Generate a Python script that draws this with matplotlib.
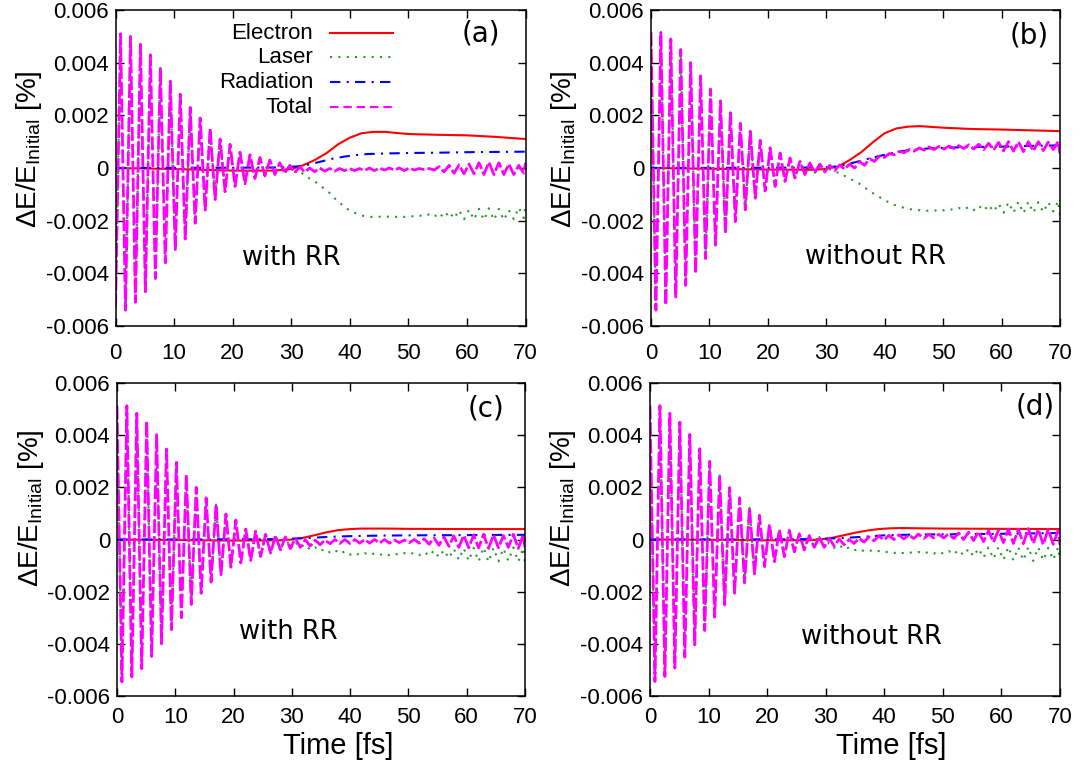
import matplotlib
matplotlib.use("Agg")
import matplotlib.pyplot as plt
from matplotlib.ticker import FixedLocator, FixedFormatter

plt.rcParams['font.family'] = ['Liberation Sans', 'DejaVu Sans']
plt.rcParams['mathtext.fontset'] = 'custom'
plt.rcParams['mathtext.rm'] = 'Liberation Sans'
plt.rcParams['mathtext.it'] = 'Liberation Sans:italic'

# ---- data --------------------------------------------------------------
# Oscillation extrema (peaks / troughs) sit on a common time grid [fs].
EXT_T = [0.0, 0.85, 1.7, 2.55, 3.4, 4.25, 5.1, 5.95, 6.8, 7.65,
         8.5, 9.35, 10.2, 11.05, 11.9, 12.75, 13.6, 14.45, 15.3, 16.15,
         17.0, 17.85, 18.7, 19.55, 20.4, 21.25, 22.1, 22.95, 23.8, 24.65,
         25.5, 26.35, 27.2, 28.05, 28.9, 29.75, 30.6, 31.45, 32.3, 33.15,
         34.0, 34.85, 35.7, 36.55, 37.4, 38.25, 39.1, 39.95, 40.8, 41.65,
         42.5, 43.35, 44.2, 45.05, 45.9, 46.75, 47.6, 48.45, 49.3, 50.15,
         51.0, 51.85, 52.7, 53.55, 54.4, 55.25, 56.1, 56.95, 57.8, 58.65,
         59.5, 60.35, 61.2, 62.05, 62.9, 63.75, 64.6, 65.45, 66.3, 67.15,
         68.0, 68.85, 69.7, 70.0]
# laser and total coincide before this grid index
LASER_SPLIT = 34

TOTAL_A = [-0.0053, 0.0051, -0.0054, 0.0050, -0.0051, 0.0047, -0.0047, 0.0043, -0.0042, 0.0038,
           -0.0036, 0.0033, -0.0031, 0.0028, -0.0027, 0.0023, -0.0021, 0.0019, -0.0016, 0.0015,
           -0.0012, 0.0011, -0.0009, 0.0009, -0.0007, 0.0006, -0.0006, 0.0005, -0.0004, 0.0004,
           -0.0003, 0.0003, -0.00025, 0.0002, -0.0002, 0.0001, -0.00018, 0.00005, -0.00016, 0.0,
           -0.00014, 0.0, -0.00012, -0.00002, -0.00012, -0.00002, -0.0001, -0.00002, -0.0001, -0.00002,
           -0.0001, 0.0, -0.0001, 0.0, -0.00008, 0.0, -0.00008, 0.0, -0.0001, 0.0,
           -0.00008, -0.00002, -0.00006, -0.00002, -0.00008, 0.00005, -0.00015, 0.0001, -0.0002, 0.00012,
           -0.00022, 0.00015, -0.00022, 0.0002, -0.00025, 0.00022, -0.00025, 0.0002, -0.00025, 0.00015,
           -0.00025, 0.0001, -0.0002, 0.0002]
LASER_LATE_A = [-0.0002, 0.0001, -0.00015, -0.0001, -0.0003, -0.0004, -0.0005, -0.00065, -0.0008, -0.00095,
                -0.00115, -0.0013, -0.0015, -0.0016, -0.0017, -0.00178, -0.00183, -0.00185, -0.00187, -0.00185,
                -0.00187, -0.00184, -0.00187, -0.00183, -0.00186, -0.00181, -0.00185, -0.0018, -0.00184, -0.00176,
                -0.00186, -0.0017, -0.0019, -0.00165, -0.00192, -0.0016, -0.00195, -0.00158, -0.00196, -0.00155,
                -0.00198, -0.00153, -0.00198, -0.00155, -0.00198, -0.0016, -0.00195, -0.0015, -0.0019, -0.0014]
ELEC_T_A = [0, 10, 20, 27, 30, 32, 34, 36, 38, 40, 42, 44, 46, 50, 55, 60, 65, 70]
ELEC_V_A = [0, -0.00004, -0.0001, -0.0001, -0.00004, 0.0001, 0.0003, 0.00056, 0.0009, 0.00115,
            0.00132, 0.00137, 0.00137, 0.00129, 0.00126, 0.00124, 0.00118, 0.0011]
RAD_T_A = [0, 20, 28, 31, 33, 35, 37, 39, 41, 43, 46, 50, 55, 60, 65, 70]
RAD_V_A = [0, 0.00001, 0.00002, 0.00006, 0.00013, 0.00024, 0.00035, 0.00043, 0.00049, 0.00053,
           0.00055, 0.00057, 0.00058, 0.0006, 0.00061, 0.00062]

TOTAL_B = [0.00515, -0.0054, 0.00515, -0.0052, 0.0049, -0.0049, 0.0045, -0.00446, 0.0040, -0.0040,
           0.0035, -0.00344, 0.0030, -0.00293, 0.00255, -0.00248, 0.0021, -0.00204, 0.0017, -0.00159,
           0.0014, -0.00115, 0.00105, -0.00087, 0.00077, -0.0007, 0.00057, -0.00051, 0.00038, -0.00038,
           0.00025, -0.00025, 0.00019, -0.00018, 0.00015, -0.00015, 0.0001, -0.0001, 0.00012, -0.00005,
           0.00015, 0.0, 0.00025, 0.0001, 0.00035, 0.00025, 0.00045, 0.0004, 0.00055, 0.0005,
           0.00063, 0.00058, 0.0007, 0.00064, 0.00076, 0.00068, 0.0008, 0.0007, 0.00082, 0.00072,
           0.00083, 0.00074, 0.00085, 0.00074, 0.00088, 0.00072, 0.0009, 0.0007, 0.00094, 0.00068,
           0.00097, 0.00065, 0.001, 0.00064, 0.001, 0.00062, 0.001, 0.00064, 0.001, 0.00066,
           0.00098, 0.0007, 0.001, 0.00055]
LASER_LATE_B = [0.00015, -0.00015, -0.00005, -0.00015, -0.00018, -0.0003, -0.00038, -0.00052, -0.0006, -0.00075,
                -0.00085, -0.001, -0.0011, -0.00124, -0.0013, -0.0014, -0.00145, -0.00152, -0.00155, -0.0016,
                -0.0016, -0.00165, -0.00161, -0.00163, -0.00157, -0.00161, -0.00155, -0.0016, -0.00152, -0.00158,
                -0.00148, -0.0016, -0.00143, -0.00162, -0.0014, -0.00166, -0.00135, -0.0017, -0.0013, -0.0017,
                -0.00128, -0.00172, -0.00128, -0.0017, -0.0013, -0.00168, -0.0013, -0.00165, -0.00125, -0.0018]
ELEC_T_B = [0, 10, 20, 28, 30, 32, 34, 36, 38, 40, 42, 44, 46, 50, 55, 60, 65, 70]
ELEC_V_B = [0, -0.00003, -0.00006, -0.00007, -0.00003, 0.00005, 0.0003, 0.0006, 0.00098, 0.00132,
            0.0015, 0.00157, 0.00159, 0.00153, 0.00148, 0.00146, 0.00143, 0.0014]
RAD_T_B = [0, 20, 28, 31, 33, 35, 37, 39, 41, 43, 45, 48, 52, 56, 60, 65, 70]
RAD_V_B = [0, 0.00001, 0.00002, 0.00004, 0.00011, 0.00022, 0.00034, 0.00045, 0.00055, 0.00064,
           0.0007, 0.00075, 0.00078, 0.0008, 0.00081, 0.00084, 0.00086]

TOTAL_C = [0.00513, -0.00546, 0.00513, -0.00527, 0.00484, -0.00495, 0.00453, -0.00448, 0.00402, -0.004,
           0.00347, -0.00346, 0.00296, -0.003, 0.00248, -0.00249, 0.002, -0.00206, 0.0016, -0.00163,
           0.00134, -0.00135, 0.00098, -0.00106, 0.00075, -0.0009, 0.0004, -0.0008, 0.00032, -0.00065,
           0.0002, -0.00052, 0.00015, -0.0004, 0.0001, -0.00035, 0.00005, -0.0003, 0.0, -0.00025,
           -0.00002, -0.0002, -0.00002, -0.00016, 0.0, -0.00015, 0.0, -0.00015, 0.0, -0.00014,
           0.0, -0.00014, 0.0, -0.00014, 0.0, -0.00014, -0.00002, -0.00012, -0.00002, -0.00012,
           0.0, -0.00014, 0.00003, -0.00018, 0.00006, -0.00022, 0.0001, -0.00026, 0.00014, -0.0003,
           0.00016, -0.00032, 0.00018, -0.00032, 0.0002, -0.00034, 0.00018, -0.00032, 0.00015, -0.0003,
           0.0002, -0.00034, 0.00018, -0.0003]
LASER_LATE_C = [0.0001, -0.00035, -0.0001, -0.0003, -0.00018, -0.0004, -0.0003, -0.00045, -0.00035, -0.0005,
                -0.0004, -0.00055, -0.00045, -0.00058, -0.0005, -0.0006, -0.00052, -0.0006, -0.00053, -0.0006,
                -0.00053, -0.0006, -0.00053, -0.0006, -0.00052, -0.00058, -0.0005, -0.0006, -0.00047, -0.00062,
                -0.00042, -0.00068, -0.0004, -0.00072, -0.00036, -0.00078, -0.00034, -0.00082, -0.00032, -0.00084,
                -0.0003, -0.00086, -0.00032, -0.00084, -0.00034, -0.00082, -0.0003, -0.00085, -0.00032, -0.0009]
ELEC_T_C = [0, 10, 20, 28, 30, 32, 34, 36, 38, 40, 42, 46, 50, 60, 70]
ELEC_V_C = [0, -0.00002, -0.00004, -0.00003, 0.0, 0.00007, 0.00017, 0.00028, 0.00036, 0.0004,
            0.00042, 0.00042, 0.00041, 0.0004, 0.0004]
RAD_T_C = [0, 25, 30, 33, 36, 40, 45, 50, 60, 70]
RAD_V_C = [0, 0.00001, 0.00003, 0.00006, 0.0001, 0.00013, 0.00015, 0.00016, 0.00017, 0.00018]

TOTAL_D = [0.00513, -0.00544, 0.00513, -0.00525, 0.00484, -0.00493, 0.0045, -0.00451, 0.00403, -0.00404,
           0.00348, -0.00349, 0.003, -0.00298, 0.00246, -0.00251, 0.00199, -0.00206, 0.0016, -0.00166,
           0.00121, -0.00132, 0.00093, -0.00104, 0.00059, -0.00085, 0.00038, -0.00066, 0.00035, -0.00047,
           0.00022, -0.0004, 0.00015, -0.0003, 0.0001, -0.0003, 0.00005, -0.00025, 0.00002, -0.0002,
           0.0, -0.00015, 0.00005, -0.0001, 0.0001, -0.00005, 0.00014, -0.00002, 0.00016, 0.0,
           0.00018, 0.00002, 0.00018, 0.00004, 0.0002, 0.00004, 0.0002, 0.00006, 0.0002, 0.00006,
           0.00022, 0.00004, 0.00025, 0.0, 0.00028, -0.00004, 0.0003, -0.00008, 0.00034, -0.0001,
           0.00036, -0.00012, 0.0004, -0.00015, 0.0004, -0.00016, 0.00042, -0.00015, 0.0004, -0.0002,
           0.0004, -0.00018, 0.00035, -0.0002]
LASER_LATE_D = [0.0001, -0.0003, -0.00012, -0.00032, -0.0002, -0.00038, -0.0003, -0.00042, -0.00035, -0.00045,
                -0.0004, -0.00048, -0.00044, -0.0005, -0.00046, -0.00052, -0.00047, -0.00053, -0.00048, -0.00053,
                -0.00048, -0.00054, -0.00047, -0.00054, -0.00046, -0.00055, -0.00044, -0.00057, -0.0004, -0.0006,
                -0.00036, -0.00065, -0.00034, -0.0007, -0.0003, -0.00074, -0.0003, -0.00078, -0.00028, -0.0008,
                -0.0003, -0.0008, -0.00028, -0.00082, -0.0003, -0.0008, -0.00032, -0.00078, -0.0003, -0.0008]
ELEC_T_D = [0, 10, 20, 27, 29, 31, 33, 35, 37, 39, 41, 43, 46, 50, 60, 70]
ELEC_V_D = [0, -0.00001, -0.00003, -0.00003, 0.0, 0.00006, 0.00016, 0.00026, 0.00034, 0.0004,
            0.00043, 0.00044, 0.00043, 0.00042, 0.00041, 0.0004]
RAD_T_D = [0, 25, 30, 33, 36, 40, 45, 50, 60, 70]
RAD_V_D = [0, 0.00001, 0.00003, 0.00006, 0.0001, 0.00016, 0.00019, 0.0002, 0.00022, 0.00025]

LABELS = ["Electron", "Laser", "Radiation", "Total"]
X_TICKS = [0, 10, 20, 30, 40, 50, 60, 70]
Y_TICKS = [-0.006, -0.004, -0.002, 0, 0.002, 0.004, 0.006]
Y_TICKLABELS = ["-0.006", "-0.004", "-0.002", "0", "0.002", "0.004", "0.006"]

# ---- styles (gnuplot-like) ----------------------------------------------
STYLES = {
    "Electron": dict(color="#ff0000", lw=1.5, ls="-"),
    "Laser": dict(color="#2a9a2a", lw=1.5, ls=(0, (1, 3.0))),
    "Radiation": dict(color="#0000ff", lw=1.5, ls=(0, (5, 3, 1, 3))),
    "Total": dict(color="#ff00ff", lw=2.0, ls=(0, (5, 1.1))),
}
LEGEND_STYLES = {
    "Electron": STYLES["Electron"],
    "Laser": STYLES["Laser"],
    "Radiation": STYLES["Radiation"],
    "Total": dict(color="#ff00ff", lw=1.6, ls=(0, (3.8, 2.2))),
}

panels = [
    dict(rect=[0.1064, 0.5761, 0.3775, 0.4109], tag="(a)", tagx=0.89, tagy=0.927,
         note="with RR", notex=0.428, notey=0.215, total=TOTAL_A, late=LASER_LATE_A,
         et=ELEC_T_A, ev=ELEC_V_A, rt=RAD_T_A, rv=RAD_V_A, legend=True, xlabel=None,
         ylaby=0.56, xpad=12),
    dict(rect=[0.5994, 0.5761, 0.3766, 0.4109], tag="(b)", tagx=0.925, tagy=0.92,
         note="without RR", notex=0.548, notey=0.218, total=TOTAL_B, late=LASER_LATE_B,
         et=ELEC_T_B, ev=ELEC_V_B, rt=RAD_T_B, rv=RAD_V_B, legend=False, xlabel=None,
         ylaby=0.56, xpad=12),
    dict(rect=[0.1077, 0.0949, 0.3757, 0.4070], tag="(c)", tagx=0.905, tagy=0.92,
         note="with RR", notex=0.42, notey=0.205, total=TOTAL_C, late=LASER_LATE_C,
         et=ELEC_T_C, ev=ELEC_V_C, rt=RAD_T_C, rv=RAD_V_C, legend=False, xlabel=0.543,
         ylaby=0.6, xpad=8),
    dict(rect=[0.5985, 0.0949, 0.3775, 0.4070], tag="(d)", tagx=0.94, tagy=0.925,
         note="without RR", notex=0.54, notey=0.19, total=TOTAL_D, late=LASER_LATE_D,
         et=ELEC_T_D, ev=ELEC_V_D, rt=RAD_T_D, rv=RAD_V_D, legend=False, xlabel=0.588,
         ylaby=0.6, xpad=8),
]

fig = plt.figure(figsize=(10.86, 7.69), dpi=100)

for p in panels:
    ax = fig.add_axes(p["rect"])
    laser = p["total"][:LASER_SPLIT] + p["late"]
    ax.plot(p["et"], p["ev"], **STYLES["Electron"])
    ax.plot(EXT_T, laser, **STYLES["Laser"])
    ax.plot(p["rt"], p["rv"], **STYLES["Radiation"])
    ax.plot(EXT_T, p["total"], **STYLES["Total"])

    ax.set_xlim(0, 70)
    ax.set_ylim(-0.006, 0.006)
    ax.xaxis.set_major_locator(FixedLocator(X_TICKS))
    ax.yaxis.set_major_locator(FixedLocator(Y_TICKS))
    ax.yaxis.set_major_formatter(FixedFormatter(Y_TICKLABELS))
    ax.tick_params(direction="in", top=True, right=True, length=6, width=1.0,
                   labelsize=16)
    ax.tick_params(axis="x", pad=p["xpad"])
    ax.tick_params(axis="y", pad=5)
    for s in ax.spines.values():
        s.set_linewidth(1.1)

    ax.set_ylabel(r"ΔE/E$_{\mathrm{Initial}}$ [%]", fontsize=20)
    ax.yaxis.set_label_coords(-0.175, p["ylaby"])
    if p["xlabel"] is not None:
        ax.set_xlabel("Time [fs]", fontsize=21)
        ax.xaxis.set_label_coords(p["xlabel"], -0.115)

    ax.text(p["tagx"], p["tagy"], p["tag"], transform=ax.transAxes, fontsize=20,
            family="DejaVu Sans", ha="center", va="center")
    ax.text(p["notex"], p["notey"], p["note"], transform=ax.transAxes, fontsize=18.5,
            family="DejaVu Sans", ha="center", va="center")

    if p["legend"]:
        for i, name in enumerate(LABELS):
            yy = [0.927, 0.851, 0.772, 0.693][i]
            ax.text(0.4817, yy, name, transform=ax.transAxes, fontsize=16,
                    ha="right", va="center")
            ax.plot([0.523, 0.677], [yy, yy], transform=ax.transAxes,
                    **LEGEND_STYLES[name])

fig.savefig("out.png", dpi=100)
